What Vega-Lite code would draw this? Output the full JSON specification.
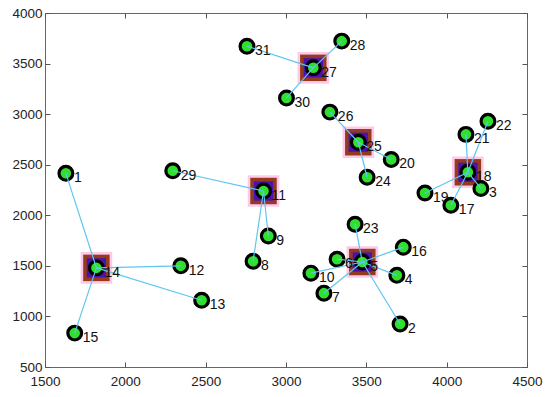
{
  "$schema": "https://vega.github.io/schema/vega-lite/v6.json",
  "width": 482,
  "height": 354,
  "autosize": "none",
  "padding": {"left": 45, "top": 13, "right": 23, "bottom": 30},
  "background": "white",
  "config": {
    "view": {"stroke": "#666666", "strokeWidth": 1},
    "axis": {
      "grid": false,
      "domain": false,
      "tickSize": -5,
      "tickColor": "#555555",
      "labelFont": "Liberation Sans",
      "labelFontSize": 13.5,
      "labelColor": "#222222",
      "labelFlush": false,
      "labelOverlap": false,
      "title": null
    }
  },
  "data": {
    "values": [
      {"id": "1", "x": 1630, "y": 2415, "cx": 1820, "cy": 1480, "c": false},
      {"id": "12", "x": 2345, "y": 1500, "cx": 1820, "cy": 1480, "c": false},
      {"id": "13", "x": 2475, "y": 1160, "cx": 1820, "cy": 1480, "c": false},
      {"id": "15", "x": 1685, "y": 835, "cx": 1820, "cy": 1480, "c": false},
      {"id": "14", "x": 1820, "y": 1480, "cx": 1820, "cy": 1480, "c": true},
      {"id": "29", "x": 2295, "y": 2440, "cx": 2860, "cy": 2240, "c": false},
      {"id": "9", "x": 2890, "y": 1795, "cx": 2860, "cy": 2240, "c": false},
      {"id": "8", "x": 2795, "y": 1545, "cx": 2860, "cy": 2240, "c": false},
      {"id": "11", "x": 2860, "y": 2240, "cx": 2860, "cy": 2240, "c": true},
      {"id": "31", "x": 2757, "y": 3672, "cx": 3170, "cy": 3458, "c": false},
      {"id": "28", "x": 3347, "y": 3722, "cx": 3170, "cy": 3458, "c": false},
      {"id": "30", "x": 3003, "y": 3160, "cx": 3170, "cy": 3458, "c": false},
      {"id": "27", "x": 3170, "y": 3458, "cx": 3170, "cy": 3458, "c": true},
      {"id": "26", "x": 3273, "y": 3020, "cx": 3450, "cy": 2722, "c": false},
      {"id": "20", "x": 3655, "y": 2552, "cx": 3450, "cy": 2722, "c": false},
      {"id": "24", "x": 3505, "y": 2376, "cx": 3450, "cy": 2722, "c": false},
      {"id": "25", "x": 3450, "y": 2722, "cx": 3450, "cy": 2722, "c": true},
      {"id": "22", "x": 4257, "y": 2930, "cx": 4132, "cy": 2425, "c": false},
      {"id": "21", "x": 4120, "y": 2800, "cx": 4132, "cy": 2425, "c": false},
      {"id": "3", "x": 4213, "y": 2265, "cx": 4132, "cy": 2425, "c": false},
      {"id": "19", "x": 3865, "y": 2220, "cx": 4132, "cy": 2425, "c": false},
      {"id": "17", "x": 4026, "y": 2100, "cx": 4132, "cy": 2425, "c": false},
      {"id": "18", "x": 4132, "y": 2425, "cx": 4132, "cy": 2425, "c": true},
      {"id": "23", "x": 3430, "y": 1912, "cx": 3475, "cy": 1538, "c": false},
      {"id": "16", "x": 3730, "y": 1685, "cx": 3475, "cy": 1538, "c": false},
      {"id": "6", "x": 3318, "y": 1566, "cx": 3475, "cy": 1538, "c": false},
      {"id": "10", "x": 3155, "y": 1428, "cx": 3475, "cy": 1538, "c": false},
      {"id": "4", "x": 3690, "y": 1406, "cx": 3475, "cy": 1538, "c": false},
      {"id": "7", "x": 3236, "y": 1230, "cx": 3475, "cy": 1538, "c": false},
      {"id": "2", "x": 3710, "y": 925, "cx": 3475, "cy": 1538, "c": false},
      {"id": "5", "x": 3475, "y": 1538, "cx": 3475, "cy": 1538, "c": true}
    ]
  },
  "resolve": {"axis": {"x": "independent", "y": "independent"}},
  "layer": [
    {
      "transform": [{"filter": "datum.c"}],
      "mark": {"type": "square", "size": 1000, "filled": true, "color": "#ffcaea", "opacity": 1},
      "encoding": {
        "x": {"field": "x", "type": "quantitative", "scale": {"domain": [1500, 4500], "nice": false, "zero": false}, "axis": {"values": [1500, 2000, 2500, 3000, 3500, 4000, 4500], "format": "d", "labelPadding": 12}},
        "y": {"field": "y", "type": "quantitative", "scale": {"domain": [500, 4000], "nice": false, "zero": false}, "axis": {"values": [500, 1000, 1500, 2000, 2500, 3000, 3500, 4000], "format": "d", "labelPadding": 8}}
      }
    },
    {
      "transform": [{"filter": "datum.c"}],
      "mark": {"type": "square", "size": 700, "filled": true, "color": "#943a1e", "opacity": 1},
      "encoding": {"x": {"field": "x", "type": "quantitative", "axis": null}, "y": {"field": "y", "type": "quantitative", "axis": null}}
    },
    {
      "transform": [{"filter": "datum.c"}],
      "mark": {"type": "square", "size": 370, "filled": true, "color": "#4a12b0", "opacity": 1},
      "encoding": {"x": {"field": "x", "type": "quantitative", "axis": null}, "y": {"field": "y", "type": "quantitative", "axis": null}}
    },
    {
      "mark": {"type": "circle", "size": 190, "fill": "#2fe02f", "stroke": "#000000", "strokeWidth": 3.2, "opacity": 1},
      "encoding": {"x": {"field": "x", "type": "quantitative", "axis": null}, "y": {"field": "y", "type": "quantitative", "axis": null}}
    },
    {
      "transform": [{"filter": "!datum.c"}],
      "mark": {"type": "rule", "color": "#5ec6ef", "strokeWidth": 1.2},
      "encoding": {"x": {"field": "x", "type": "quantitative", "axis": null}, "y": {"field": "y", "type": "quantitative", "axis": null}, "x2": {"field": "cx"}, "y2": {"field": "cy"}}
    },
    {
      "mark": {"type": "text", "align": "left", "baseline": "middle", "dx": 8, "dy": 5, "font": "Liberation Sans", "fontSize": 14, "color": "#111111"},
      "encoding": {"x": {"field": "x", "type": "quantitative", "axis": null}, "y": {"field": "y", "type": "quantitative", "axis": null}, "text": {"field": "id"}}
    },
    {
      "mark": {"type": "point", "opacity": 0},
      "encoding": {
        "x": {"field": "x", "type": "quantitative", "axis": {"orient": "top", "labels": false, "values": [1500, 2000, 2500, 3000, 3500, 4000, 4500]}},
        "y": {"field": "y", "type": "quantitative", "axis": {"orient": "right", "labels": false, "values": [500, 1000, 1500, 2000, 2500, 3000, 3500, 4000]}}
      }
    }
  ]
}
